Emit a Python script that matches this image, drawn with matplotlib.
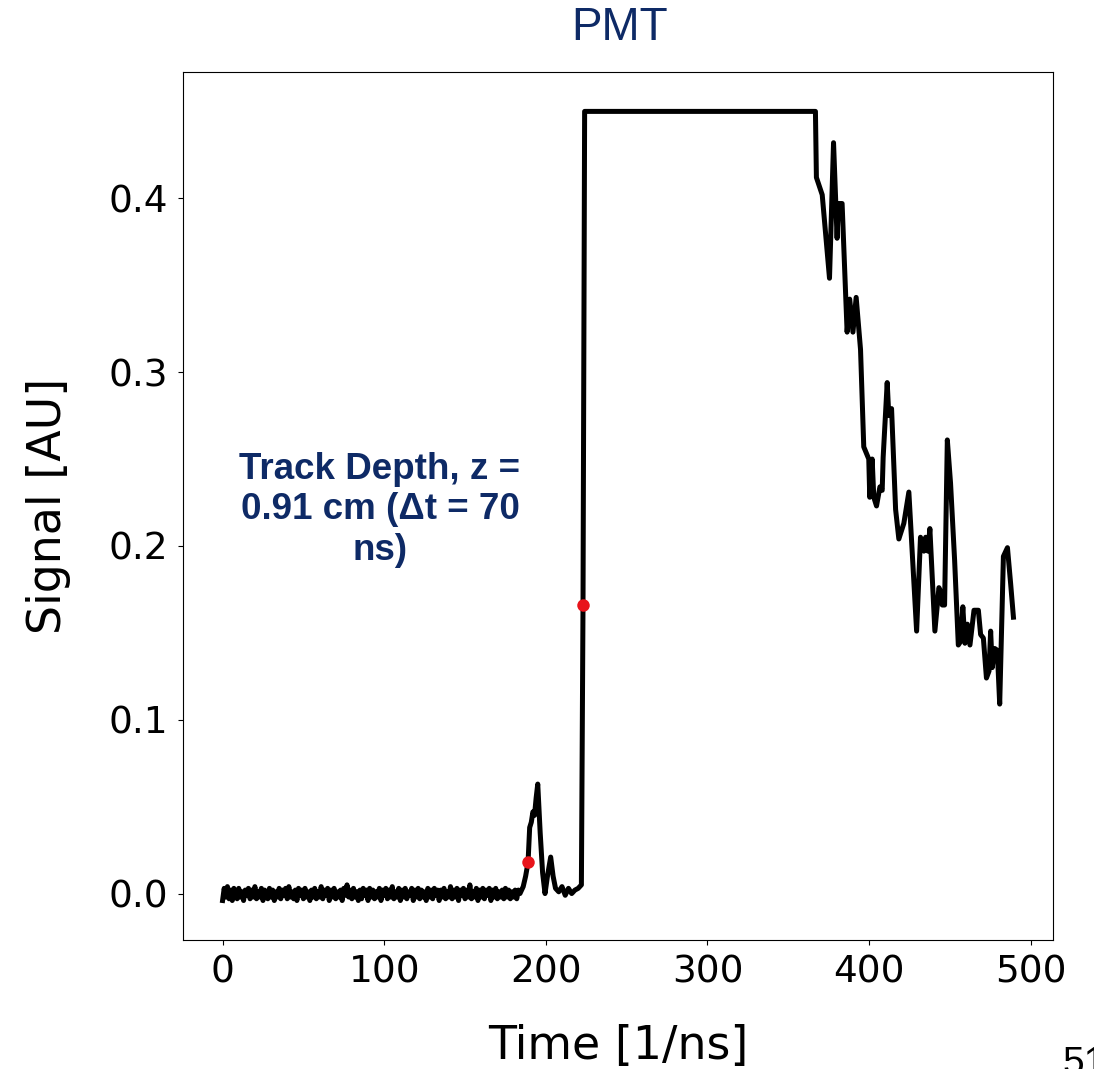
import matplotlib
matplotlib.use("Agg")
import matplotlib.pyplot as plt

# Pre-trigger baseline, sampled every 1 ns from 0 to 184 ns
baseline_t = list(range(0, 185))
baseline_v = [
    -0.004, 0.003, -0.002, 0.004, -0.003, 0.002, -0.004, 0.003, 0.000, -0.003,
    0.003, -0.002, 0.001, -0.004, 0.002, -0.001, 0.003, -0.003, 0.002, -0.002,
    0.004, -0.003, 0.001, -0.002, 0.003, -0.004, 0.002, 0.000, -0.003, 0.003,
    -0.002, 0.002, -0.004, 0.001, -0.002, 0.003, -0.003, 0.002, -0.001, 0.003,
    -0.003, 0.004, -0.002, 0.001, -0.003, 0.002, -0.004, 0.003, -0.001, 0.002,
    -0.003, 0.003, -0.002, 0.001, -0.004, 0.002, -0.002, 0.003, -0.003, 0.001,
    -0.002, 0.004, -0.003, 0.002, -0.001, 0.003, -0.004, 0.002, -0.002, 0.003,
    -0.003, 0.001, -0.002, 0.002, -0.004, 0.003, -0.001, 0.005, -0.002, 0.002,
    -0.003, 0.003, -0.002, 0.001, -0.004, 0.002, -0.003, 0.003, -0.001, 0.002,
    -0.004, 0.003, -0.002, 0.002, -0.003, 0.001, -0.002, 0.003, -0.004, 0.002,
    -0.001, 0.003, -0.003, 0.002, -0.002, 0.004, -0.003, 0.001, -0.002, 0.003,
    -0.004, 0.002, -0.002, 0.003, -0.003, 0.001, -0.001, 0.003, -0.004, 0.002,
    -0.002, 0.003, -0.003, 0.002, -0.002, 0.001, -0.004, 0.003, -0.002, 0.002,
    -0.003, 0.003, -0.001, 0.002, -0.004, 0.002, -0.002, 0.003, -0.003, 0.001,
    -0.002, 0.004, -0.003, 0.002, -0.002, 0.003, -0.004, 0.002, -0.001, 0.003,
    -0.003, 0.002, -0.002, 0.005, -0.003, 0.001, -0.002, 0.003, -0.004, 0.002,
    -0.002, 0.003, -0.003, 0.002, -0.001, 0.003, -0.004, 0.002, -0.002, 0.003,
    -0.003, 0.001, -0.002, 0.002, -0.003, 0.003, -0.002, 0.002, -0.003, 0.001,
    -0.002, 0.002, -0.003, 0.002, 0.000,
]

# Pulse, saturation plateau and decaying tail
pulse_t = [186, 187.5, 189, 190, 191, 192, 193, 194, 195, 196.5, 198, 199.5,
           201, 203, 204.5, 206, 208, 210, 212, 214, 216, 218, 220, 222, 223, 224]
pulse_v = [0.004, 0.010, 0.018, 0.038, 0.041, 0.047, 0.045, 0.055, 0.063, 0.035,
           0.012, 0.000, 0.010, 0.021, 0.010, 0.003, 0.001, 0.004, -0.001, 0.003,
           0.000, 0.002, 0.003, 0.005, 0.166, 0.450]

tail_t = [366.8, 367.4, 371.0, 375.5, 378.0, 380.2, 381.0, 383.3, 386.4, 388.0,
          390.0, 392.0, 394.7, 396.7, 399.8, 400.4, 401.9, 402.9, 404.6, 406.7,
          408.1, 408.7, 411.2, 412.2, 413.9, 416.4, 418.4, 421.5, 424.6, 429.4,
          431.8, 433.9, 435.0, 436.4, 437.6, 440.7, 443.2, 444.2, 445.3, 446.7,
          448.4, 450.4, 452.9, 455.2, 456.6, 458.0, 459.3, 460.8, 462.4, 464.9,
          467.6, 469.0, 470.7, 472.6, 474.2, 475.2, 476.2, 477.7, 479.3, 480.8,
          483.1, 485.6, 487.6, 489.3]
tail_v = [0.450, 0.412, 0.402, 0.354, 0.432, 0.377, 0.397, 0.397, 0.323, 0.342,
          0.323, 0.343, 0.313, 0.257, 0.250, 0.228, 0.250, 0.228, 0.223, 0.234,
          0.232, 0.251, 0.294, 0.275, 0.279, 0.221, 0.204, 0.213, 0.231, 0.151,
          0.205, 0.197, 0.205, 0.197, 0.210, 0.151, 0.176, 0.174, 0.166, 0.166,
          0.261, 0.236, 0.192, 0.143, 0.145, 0.165, 0.144, 0.155, 0.143, 0.163,
          0.163, 0.149, 0.147, 0.124, 0.128, 0.151, 0.130, 0.141, 0.140, 0.109,
          0.194, 0.199, 0.178, 0.159]

# Threshold crossing markers
marker_t = [189, 223]
marker_v = [0.018, 0.166]

navy = "#0E2A66"

fig = plt.figure(figsize=(10.94, 10.69), dpi=100)
ax = fig.add_axes([0.1673, 0.1207, 0.7952, 0.8120])

t = baseline_t + pulse_t + tail_t
v = baseline_v + pulse_v + tail_v
ax.plot(t, v, color="black", lw=3.6, solid_joinstyle="round")
ax.plot(marker_t, marker_v, "o", color="#E8141B", ms=9, mec="none", zorder=3)

ax.set_xticks([0, 100, 200, 300, 400, 500])
ax.set_yticks([0.0, 0.1, 0.2, 0.3, 0.4])
ax.tick_params(labelsize=27, pad=7)
ax.set_xlabel("Time [1/ns]", fontsize=33, labelpad=24)
ax.set_ylabel("Signal [AU]", fontsize=33, labelpad=27)

ax.text(0.2264, 0.4954, "Track Depth, z =\n0.91 cm (\u0394t = 70\nns)", transform=ax.transAxes,
        ha="center", va="center", fontsize=26.5, fontweight="bold",
        family="Liberation Sans", color=navy, linespacing=1.2)

fig.text(620 / 1094, 1 - 28 / 1069, "PMT", ha="center", va="center",
         fontsize=33, family="Liberation Sans", color=navy)
# page number sits at the bottom-right corner, partly past the edge
fig.text(1062 / 1094, 1 - 1046 / 1069, "51", ha="left", va="top",
         fontsize=28, family="Liberation Sans", color="black")

fig.savefig("out.png", dpi=100)
